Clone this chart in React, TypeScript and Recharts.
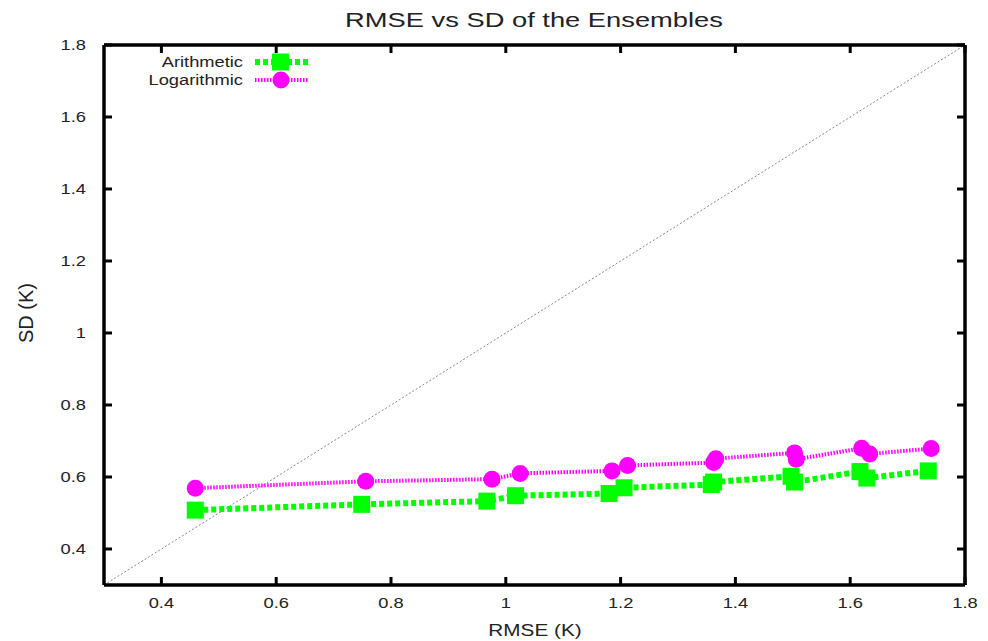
import React from 'react';
import { ComposedChart, Line, XAxis, YAxis, ReferenceLine, Legend } from 'recharts';

// values (RMSE on x, SD on y)
const rmseArithmetic = [0.459, 0.749, 0.967, 1.017, 1.18, 1.206, 1.358, 1.362, 1.497, 1.503, 1.617, 1.629, 1.736];
const sdArithmetic = [0.508, 0.524, 0.533, 0.548, 0.554, 0.57, 0.579, 0.586, 0.602, 0.586, 0.615, 0.597, 0.617];
const rmseLogarithmic = [0.459, 0.756, 0.976, 1.025, 1.185, 1.212, 1.362, 1.366, 1.503, 1.506, 1.62, 1.634, 1.741];
const sdLogarithmic = [0.569, 0.588, 0.594, 0.61, 0.617, 0.632, 0.64, 0.651, 0.667, 0.649, 0.68, 0.664, 0.679];

const diagonalX = [0.3, 1.8];
const diagonalY = [0.3, 1.8];

const xTicks = [0.4, 0.6, 0.8, 1, 1.2, 1.4, 1.6, 1.8];
const yTicks = [0.4, 0.6, 0.8, 1, 1.2, 1.4, 1.6, 1.8];

const seriesNames = ['Arithmetic', 'Logarithmic'];

const arithmeticData = rmseArithmetic.map((x, i) => ({ x, y: sdArithmetic[i] }));
const logarithmicData = rmseLogarithmic.map((x, i) => ({ x, y: sdLogarithmic[i] }));

const FONT = '"Liberation Sans", Arial, sans-serif';
const GREEN = '#00ff00';
const MAGENTA = '#ff00ff';
const STRETCH = 1.22;
const DOMAIN: [number, number] = [0.3, 1.8];
const border = { stroke: '#000', strokeWidth: 3.5 };
const tickMark = { stroke: '#000', strokeWidth: 3 };

function SquareDot(props: any) {
  const { cx, cy } = props;
  if (cx == null || cy == null) return null;
  return <rect x={cx - 8.5} y={cy - 8.5} width={17} height={17} fill={GREEN} />;
}

function XTick(props: any) {
  const { x, y, payload } = props;
  return (
    <g transform={`translate(${x},${y}) scale(${STRETCH},1)`}>
      <text x={0} y={0} dy="0.71em" textAnchor="middle" fontSize={15} fontFamily={FONT} fill="#222">
        {String(payload.value)}
      </text>
    </g>
  );
}

function YTick(props: any) {
  const { x, y, payload } = props;
  return (
    <g transform={`translate(${x},${y}) scale(${STRETCH},1)`}>
      <text x={0} y={0} dy="0.355em" textAnchor="end" fontSize={15} fontFamily={FONT} fill="#222">
        {String(payload.value)}
      </text>
    </g>
  );
}

function AxisTitle(props: any) {
  const { px, py, text, rotate } = props;
  const t = rotate ? `translate(${px},${py}) rotate(-90)` : `translate(${px},${py}) scale(${STRETCH},1)`;
  return (
    <g transform={t}>
      <text x={0} y={0} dy="0.355em" textAnchor="middle" fontSize={rotate ? 20 : 17} fontFamily={FONT} fill="#222">
        {text}
      </text>
    </g>
  );
}

function LegendBox() {
  return (
    <svg width={220} height={44}>
      {seriesNames.map((name, i) => {
        const y = 12 + i * 18;
        return (
          <g key={name}>
            <g transform={`translate(143,${y}) scale(${STRETCH},1)`}>
              <text x={0} y={0} dy="0.355em" textAnchor="end" fontSize={15} fontFamily={FONT} fill="#222">
                {name}
              </text>
            </g>
            {i === 0 ? (
              <>
                <line x1={155} x2={209} y1={y} y2={y} stroke={GREEN} strokeWidth={6} strokeDasharray="5 3" />
                <rect x={172} y={y - 8.5} width={17} height={17} fill={GREEN} />
              </>
            ) : (
              <>
                <line x1={155} x2={209} y1={y} y2={y} stroke={MAGENTA} strokeWidth={4} strokeDasharray="1.5 1.5" />
                <circle cx={181} cy={y} r={8.5} fill={MAGENTA} />
              </>
            )}
          </g>
        );
      })}
    </svg>
  );
}

export default function App() {
  return (
    <div style={{ position: 'absolute', left: 0, top: 0, width: 988, height: 641, background: '#fff' }}>
      <div
        style={{
          position: 'absolute',
          left: 534,
          top: 7,
          transform: `translateX(-50%) scaleX(${STRETCH + 0.08})`,
          fontFamily: FONT,
          fontSize: 21,
          color: '#222',
          whiteSpace: 'nowrap',
          lineHeight: '26px',
        }}
      >
        RMSE vs SD of the Ensembles
      </div>
      <ComposedChart width={988} height={641} margin={{ top: 45, right: 23, bottom: 0, left: 0 }}>
        {/* inward tick marks on all four sides (gnuplot border) */}
        <XAxis xAxisId="bottom" type="number" dataKey="x" domain={DOMAIN} ticks={xTicks} allowDataOverflow
          mirror height={1} tickSize={8} tickFormatter={() => ''} axisLine={border} tickLine={tickMark} />
        <XAxis xAxisId="top" orientation="top" type="number" dataKey="x" domain={DOMAIN} ticks={xTicks} allowDataOverflow
          mirror height={1} tickSize={8} tickFormatter={() => ''} axisLine={border} tickLine={tickMark} />
        <YAxis yAxisId="left" type="number" dataKey="y" domain={DOMAIN} ticks={yTicks} allowDataOverflow
          mirror width={1} tickSize={8} tickFormatter={() => ''} axisLine={border} tickLine={tickMark} />
        <YAxis yAxisId="right" orientation="right" type="number" dataKey="y" domain={DOMAIN} ticks={yTicks} allowDataOverflow
          mirror width={1} tickSize={8} tickFormatter={() => ''} axisLine={border} tickLine={tickMark} />
        {/* tick labels and axis titles */}
        <XAxis xAxisId="bottomLabels" type="number" dataKey="x" domain={DOMAIN} ticks={xTicks} allowDataOverflow
          height={56} tickSize={0} tickMargin={12} tick={<XTick />} axisLine={false} tickLine={false}
          label={<AxisTitle px={535} py={630} text="RMSE (K)" />} />
        <YAxis yAxisId="leftLabels" type="number" dataKey="y" domain={DOMAIN} ticks={yTicks} allowDataOverflow
          width={104} tickSize={0} tickMargin={18} tick={<YTick />} axisLine={false} tickLine={false}
          label={<AxisTitle px={26} py={313} text="SD (K)" rotate />} />
        <ReferenceLine
          xAxisId="bottom"
          yAxisId="left"
          segment={[
            { x: diagonalX[0], y: diagonalY[0] },
            { x: diagonalX[1], y: diagonalY[1] },
          ]}
          stroke="#888"
          strokeWidth={1}
          strokeDasharray="2 2"
          ifOverflow="visible"
        />
        <Line
          xAxisId="bottom"
          yAxisId="left"
          data={logarithmicData}
          dataKey="y"
          name={seriesNames[1]}
          stroke={MAGENTA}
          strokeWidth={4}
          strokeDasharray="1.5 1.5"
          dot={{ r: 8.5, fill: MAGENTA, stroke: 'none' }}
          activeDot={false}
          isAnimationActive={false}
        />
        <Line
          xAxisId="bottom"
          yAxisId="left"
          data={arithmeticData}
          dataKey="y"
          name={seriesNames[0]}
          stroke={GREEN}
          strokeWidth={6}
          strokeDasharray="5 3"
          dot={<SquareDot />}
          activeDot={false}
          isAnimationActive={false}
        />
        <Legend
          layout="vertical"
          align="center"
          verticalAlign="middle"
          wrapperStyle={{ left: 100, top: 50, width: 220, height: 44 }}
          content={<LegendBox />}
        />
      </ComposedChart>
    </div>
  );
}
